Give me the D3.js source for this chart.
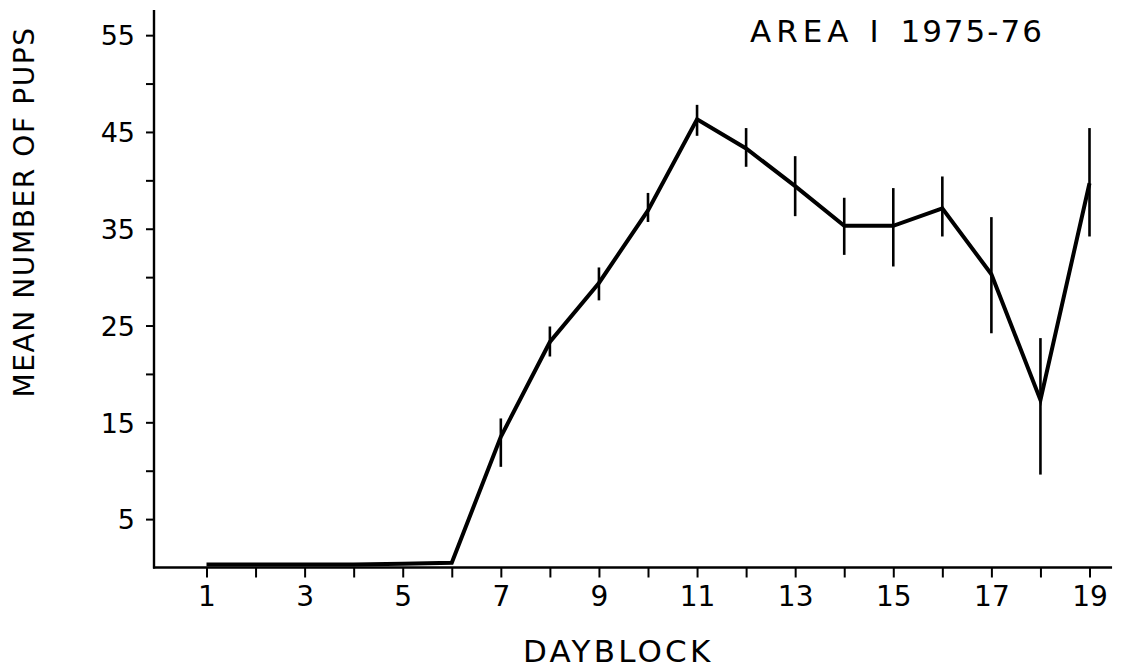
<!DOCTYPE html>
<html>
<head>
<meta charset="utf-8">
<script src="https://cdn.jsdelivr.net/npm/d3@7"></script>
<style>
  html, body { margin: 0; padding: 0; background: #fff; }
  svg { display: block; }
  text { font-family: "DejaVu Sans", sans-serif; fill: #000; }
</style>
</head>
<body>
<svg id="chart" width="1122" height="672"></svg>
<script>
// ---- data ----
const dayblocks = [1,2,3,4,5,6,7,8,9,10,11,12,13,14,15,16,17,18,19];
const meanPups  = [0.3,0.3,0.3,0.3,0.4,0.5,13.5,23.3,29.4,36.9,46.3,43.3,39.4,35.3,35.3,37.1,30.3,17.3,39.7];
const errLow    = [null,null,null,null,null,null,10.4,21.8,27.6,35.7,44.6,41.4,36.3,32.3,31.1,34.2,24.2,9.6,34.2];
const errHigh   = [null,null,null,null,null,null,15.4,24.9,31.0,38.7,47.8,45.4,42.5,38.2,39.2,40.4,36.2,23.7,45.4];
const yTickValues = [5,10,15,20,25,30,35,40,45,50,55];
const yLabelValues = [5,15,25,35,45,55];
const xTickValues = dayblocks;
const xLabelValues = [1,3,5,7,9,11,13,15,17,19];
const titleText = "AREA I 1975-76";
const xTitle = "DAYBLOCK";
const yTitle = "MEAN NUMBER OF PUPS";

// ---- layout ----
const svg = d3.select("#chart");
const axisX0 = 154, axisY0 = 567.5, axisTop = 10;
const x = d3.scaleLinear().domain([1, 19]).range([206.5, 1089.5]);
const y = d3.scaleLinear().domain([0, 57.6]).range([axisY0, axisTop]);
const xEnd = x(19.46);

const g = svg.append("g");

// y axis
const yAxis = d3.axisLeft(y).tickValues(yTickValues).tickSize(8)
  .tickFormat(d => yLabelValues.includes(d) ? d : "").tickPadding(11);
const ya = g.append("g").attr("transform", `translate(${axisX0},0)`).call(yAxis);
ya.select(".domain").remove();
ya.selectAll(".tick line").attr("stroke", "#000").attr("stroke-width", 2);
ya.selectAll(".tick text").style("font-size", "27px").style("font-family", "DejaVu Sans")
  .attr("dy", "0.36em");
g.append("line").attr("x1", axisX0).attr("x2", axisX0).attr("y1", axisTop).attr("y2", axisY0 + 1)
  .attr("stroke", "#000").attr("stroke-width", 2.4);

// x axis
const xAxis = d3.axisBottom(x).tickValues(xTickValues).tickSize(10)
  .tickFormat(d => xLabelValues.includes(d) ? d : "").tickPadding(9);
const xa = g.append("g").attr("transform", `translate(0,${axisY0})`).call(xAxis);
xa.select(".domain").remove();
xa.selectAll(".tick line").attr("stroke", "#000").attr("stroke-width", 2);
xa.selectAll(".tick text").style("font-size", "28px").style("font-family", "DejaVu Sans");
g.append("line").attr("x1", axisX0 - 1).attr("x2", xEnd).attr("y1", axisY0).attr("y2", axisY0)
  .attr("stroke", "#000").attr("stroke-width", 2.4);

// error bars
const pts = dayblocks.map((d, i) => ({d, v: meanPups[i], lo: errLow[i], hi: errHigh[i]}));
g.selectAll(".err").data(pts.filter(p => p.lo !== null)).enter().append("line")
  .attr("class", "err")
  .attr("x1", p => x(p.d)).attr("x2", p => x(p.d))
  .attr("y1", p => y(p.lo)).attr("y2", p => y(p.hi))
  .attr("stroke", "#000").attr("stroke-width", 2.6);

// line
const line = d3.line().x(p => x(p.d)).y(p => y(p.v));
g.append("path").datum(pts).attr("d", line)
  .attr("fill", "none").attr("stroke", "#000").attr("stroke-width", 4)
  .attr("stroke-linejoin", "miter");

// title
const t = svg.append("text").attr("x", 750).attr("y", 42).style("font-size", "31px");
t.append("tspan").text("AREA").style("letter-spacing", "5px");
t.append("tspan").text(" I ").style("letter-spacing", "6px");
t.append("tspan").text("1975-76").style("letter-spacing", "2px");

// x title
svg.append("text").attr("x", 523).attr("y", 662).style("font-size", "31px")
  .style("letter-spacing", "3.2px").text(xTitle);

// y title
svg.append("text").attr("transform", "translate(34,212) rotate(-90)")
  .attr("text-anchor", "middle").style("font-size", "28px").style("letter-spacing", "1.6px")
  .text(yTitle);
</script>
</body>
</html>
